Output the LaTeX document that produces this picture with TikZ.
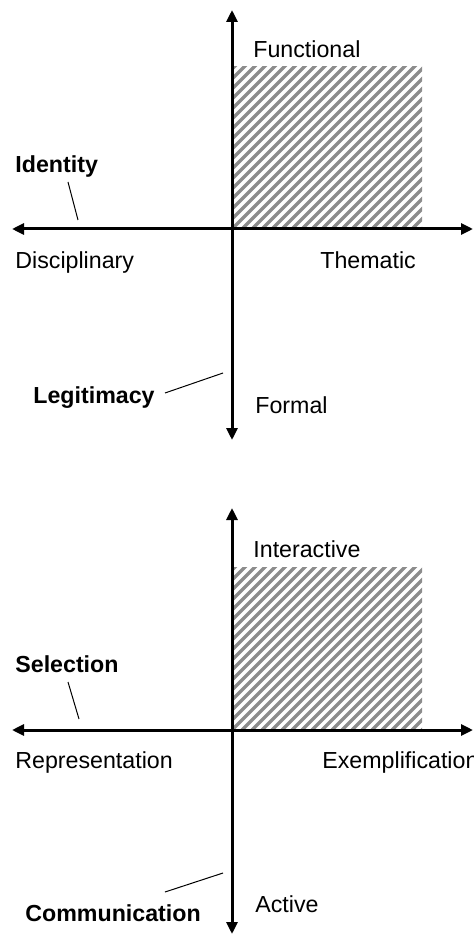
\documentclass[tikz,border=0pt]{standalone}
\usepackage{fontspec}
\setmainfont{Liberation Sans}
\usetikzlibrary{arrows.meta}
\tikzset{
  axis/.style={line width=1.5pt,{Triangle[length=6pt,width=5.5pt]}-{Triangle[length=6pt,width=5.5pt]}},
  pointer/.style={line width=0.5pt},
  stripe/.style={line width=1.7pt,black!45},
  lbl/.style={anchor=base west,inner sep=0pt,font=\fontsize{11.6}{14}\selectfont},
  bold/.style={lbl,font=\fontsize{11.6}{14}\selectfont\bfseries}
}
\begin{document}
\begin{tikzpicture}[x=0.5pt,y=-0.5pt]
\useasboundingbox (0,0) rectangle (474,935);
% upper quadrant
\begin{scope}
\clip (232,67) rectangle (422,229);
\foreach \s in {52,62,...,422} \draw[stripe] (\s,229) -- ++(180,-180);
\end{scope}
\coordinate (n1) at (232,10);
\coordinate (s1) at (232,440);
\coordinate (w1) at (12,229);
\coordinate (e1) at (473,229);
\draw[axis] (s1) -- (n1);
\draw[axis] (w1) -- (e1);
\node[lbl] (functional) at (253,58) {Functional};
\node[bold] (identity) at (15,173) {Identity};
\node[lbl] (disciplinary) at (15,269) {Disciplinary};
\node[lbl] (thematic) at (320,269) {Thematic};
\node[bold] (legitimacy) at (33,403) {Legitimacy};
\node[lbl] (formal) at (255,413) {Formal};
\coordinate (id1) at (68,182);
\coordinate (id2) at (78,220);
\draw[pointer] (id1) -- (id2);
\coordinate (lg1) at (165,393);
\coordinate (lg2) at (223,373);
\draw[pointer] (lg1) -- (lg2);
% lower quadrant
\begin{scope}
\clip (232,567) rectangle (422,730);
\foreach \s in {52,62,...,422} \draw[stripe] (\s,730) -- ++(180,-180);
\end{scope}
\coordinate (n2) at (232,508);
\coordinate (s2) at (232,934);
\coordinate (w2) at (12,730);
\coordinate (e2) at (473,730);
\draw[axis] (s2) -- (n2);
\draw[axis] (w2) -- (e2);
\node[lbl] (interactive) at (253,557) {Interactive};
\node[bold] (selection) at (15,672) {Selection};
\node[lbl] (representation) at (15,768) {Representation};
\node[lbl] (exemplification) at (322,768) {Exemplification};
\node[bold] (communication) at (25,921) {Communication};
\node[lbl] (active) at (255,912) {Active};
\coordinate (sl1) at (68,682);
\coordinate (sl2) at (79,719);
\draw[pointer] (sl1) -- (sl2);
\coordinate (cm1) at (165,892);
\coordinate (cm2) at (223,873);
\draw[pointer] (cm1) -- (cm2);
\end{tikzpicture}
\end{document}
